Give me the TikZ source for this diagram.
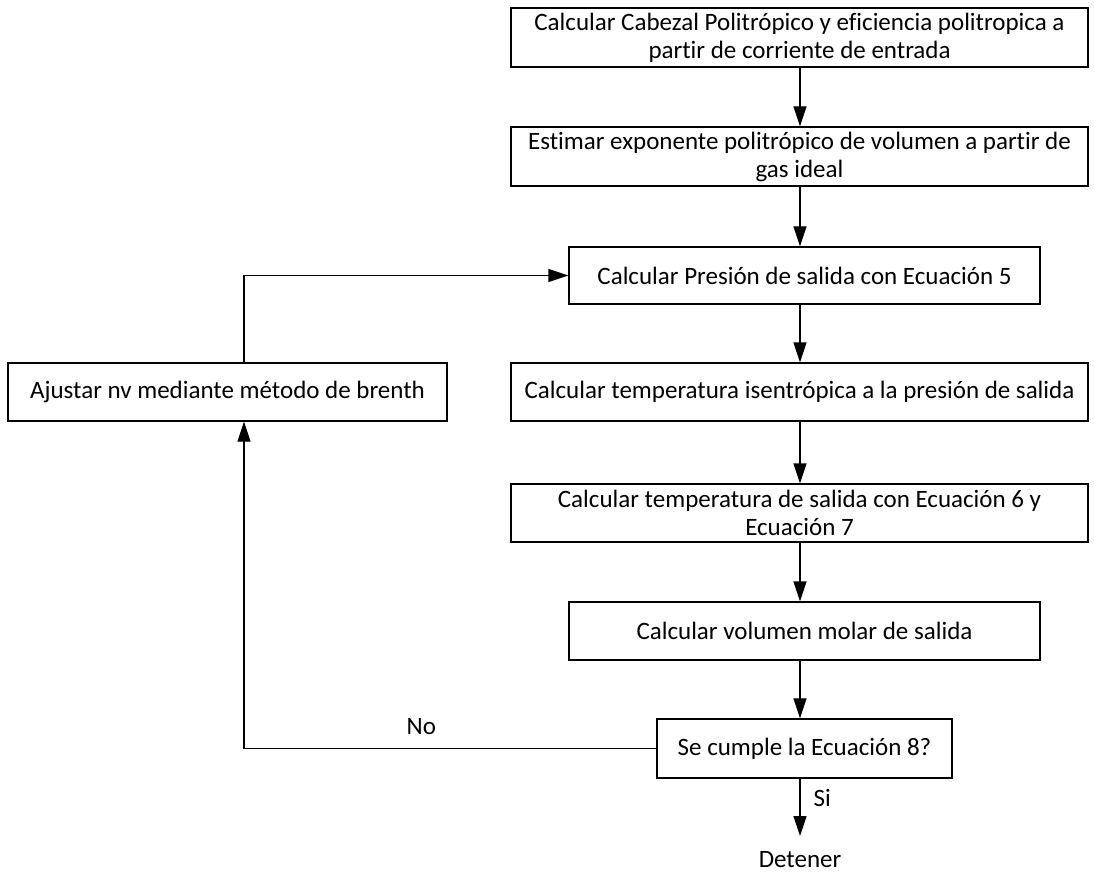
\documentclass[tikz,border=0pt]{standalone}
\usepackage{fontspec}
\setmainfont{Carlito}[Ligatures=NoCommon]
\usetikzlibrary{arrows.meta}
\begin{document}
\begin{tikzpicture}[x=1pt,y=-1pt,
  every node/.style={font=\fontsize{25}{28}\selectfont},
  box/.style={draw,line width=1.3pt,rectangle,inner sep=0pt,align=center},
  flow/.style={line width=1.3pt,-{Triangle[length=20pt,width=13pt]}}]
\useasboundingbox (0,0) rectangle (1094,875);

% process boxes, top to bottom
\node[box,minimum width=577pt,minimum height=59pt] (b1) at (799.5,37.5)
  {Calcular Cabezal Politrópico y eficiencia politropica a\\partir de corriente de entrada};
\node[box,minimum width=577pt,minimum height=59pt] (b2) at (799.5,156.5)
  {Estimar exponente politrópico de volumen a partir de\\gas ideal};
\node[box,minimum width=471pt,minimum height=57pt] (b3) at (804.5,275.5)
  {Calcular Presión de salida con Ecuación 5};
\node[box,minimum width=577pt,minimum height=58pt] (b4) at (799.5,392)
  {Calcular temperatura isentrópica a la presión de salida};
\node[box,minimum width=577pt,minimum height=58pt] (b5) at (799.5,513)
  {Calcular temperatura de salida con Ecuación 6 y\\Ecuación 7};
\node[box,minimum width=471pt,minimum height=58pt] (b6) at (804.5,631)
  {Calcular volumen molar de salida};
\node[box,minimum width=295pt,minimum height=59pt] (b7) at (804.5,748.5)
  {Se cumple la Ecuación 8?};
\node[box,minimum width=439pt,minimum height=58pt] (adj) at (227.5,392)
  {Ajustar nv mediante método de brenth};
\node (stop) at (800,860) {Detener};

% main sequence
\draw[flow] (b1.south -| 800,0) -- (b2.north -| 800,0);
\draw[flow] (b2.south -| 800,0) -- (b3.north -| 800,0);
\draw[flow] (b3.south -| 800,0) -- (b4.north -| 800,0);
\draw[flow] (b4.south -| 800,0) -- (b5.north -| 800,0);
\draw[flow] (b5.south -| 800,0) -- (b6.north -| 800,0);
\draw[flow] (b6.south -| 800,0) -- (b7.north -| 800,0);

% exit branch
\coordinate (stopend) at (800,836);
\draw[flow] (b7.south -| 800,0) -- (stopend);
\node[anchor=west] at (810,798) {Si};

% correction loop
\coordinate (loopx) at (244,0);
\draw[flow] (b7.west) -- (b7.west -| loopx) node[pos=0.57,above=10pt] {No} -- (adj.south -| loopx);
\draw[flow] (adj.north -| loopx) |- (b3.west);
\end{tikzpicture}
\end{document}
